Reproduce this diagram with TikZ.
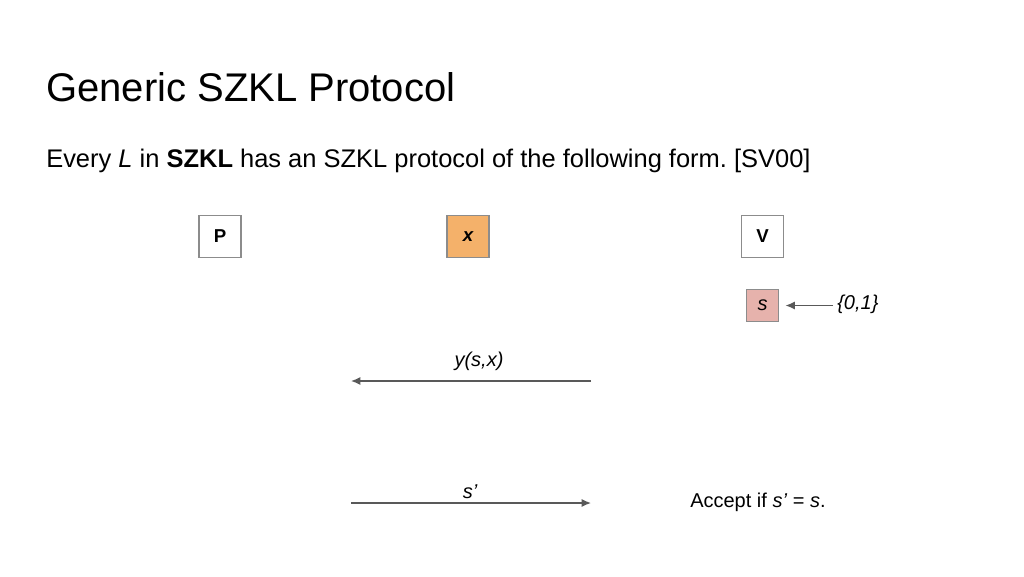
\documentclass[tikz,border=0pt]{standalone}
\usepackage{fontspec}
\setmainfont{Liberation Sans}
\usetikzlibrary{arrows.meta}
\definecolor{boxline}{HTML}{8C8C8C}
\definecolor{xfill}{HTML}{F4B16A}
\definecolor{sfill}{HTML}{E6B2AC}
\definecolor{arr}{HTML}{595959}
\frenchspacing
\begin{document}
\begin{tikzpicture}[x=0.75pt,y=-0.75pt,
  party/.style={draw=boxline,line width=0.9pt,minimum width=31.5pt,minimum height=31.5pt,inner sep=0pt,font=\fontsize{14}{16}\selectfont\bfseries},
  small/.style={draw=boxline,line width=0.9pt,minimum width=23.5pt,minimum height=23.5pt,inner sep=0pt,font=\fontsize{15}{17}\selectfont\itshape},
  msg/.style={draw=arr,line width=1pt,-{Latex[length=7pt,width=6pt]}},
  lbl/.style={font=\fontsize{15}{17}\selectfont\itshape,inner sep=0pt}]
\useasboundingbox (0,0) rectangle (1024,576);
\node[anchor=base west,inner sep=0pt,font=\fontsize{30}{36}\selectfont] (title) at (46,101) {Generic SZKL Protocol};
\node[anchor=base west,inner sep=0pt,font=\fontsize{19.1}{23}\selectfont] (sub) at (46,167) {Every \textit{L} in \textbf{SZKL} has an SZKL protocol of the following form. [SV00]};
\node[party] (P) at (220,236.5) {P};
\node[party,fill=xfill,font=\fontsize{14}{16}\selectfont\bfseries\itshape] (X) at (468,236.5) {x};
\node[party] (V) at (762.5,236.5) {V};
\node[small,fill=sfill] (S) at (762.5,305.5) {s};
\node[lbl,anchor=west] (R) at (837,304) {\{0,1\}};
\draw[msg] ([xshift=-3pt]R.west |- S.east) -- ([xshift=5pt]S.east);
\coordinate (a1) at (591,381);
\coordinate (a2) at (351,381);
\draw[msg] (a1) -- (a2);
\node[lbl] (ylab) at (479,361) {y(s,x)};
\coordinate (b1) at (351,503);
\coordinate (b2) at (591,503);
\draw[msg] (b1) -- (b2);
\node[lbl] (slab) at (470,492) {s’};
\node[anchor=base west,inner sep=0pt,font=\fontsize{15}{18}\selectfont] (acc) at (690,507) {Accept if \textit{s’} = \textit{s}.};
\end{tikzpicture}
\end{document}
